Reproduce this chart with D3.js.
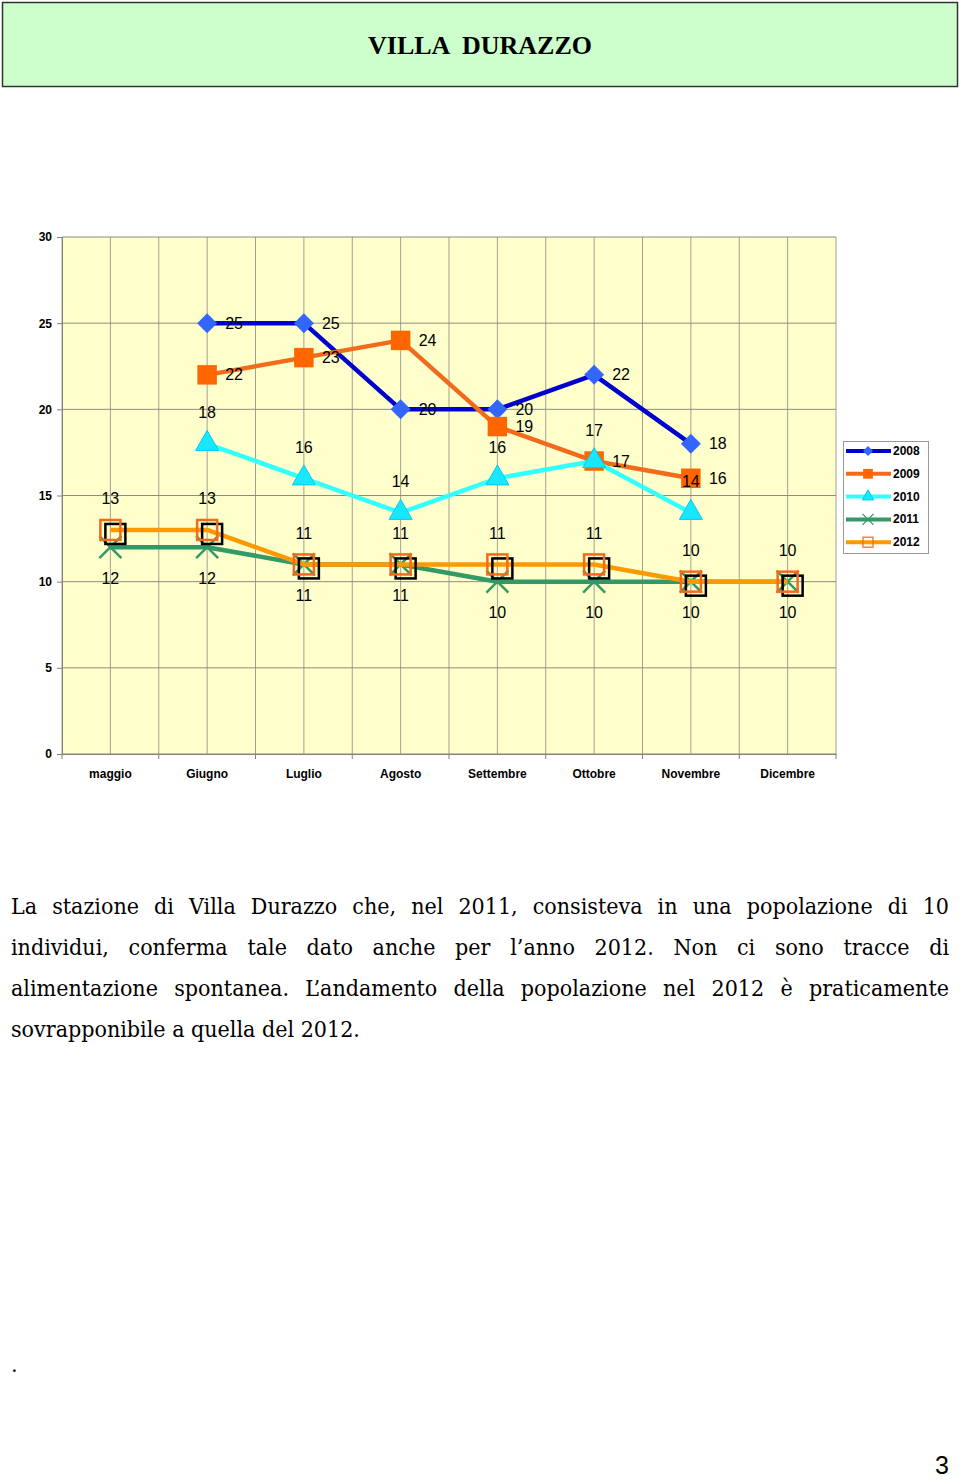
<!DOCTYPE html>
<html>
<head>
<meta charset="utf-8">
<script src="https://cdn.jsdelivr.net/npm/d3@7"></script>
<style>
  body { margin: 0; background: #fff; }
  svg { display: block; }
</style>
</head>
<body>
<svg id="page" width="960" height="1481"></svg>
<script>
// data
var months = ["maggio", "Giugno", "Luglio", "Agosto", "Settembre", "Ottobre", "Novembre", "Dicembre"];
var years = ["2008", "2009", "2010", "2011", "2012"];
var v2008 = [null, 25, 25, 20, 20, 22, 18, null];
var v2009 = [null, 22, 23, 24, 19, 17, 16, null];
var v2010 = [null, 18, 16, 14, 16, 17, 14, null];
var v2011 = [12, 12, 11, 11, 10, 10, 10, 10];
var v2012 = [13, 13, 11, 11, 11, 11, 10, 10];
var yTicks = [0, 5, 10, 15, 20, 25, 30];

var title = "VILLA  DURAZZO";
var paragraph = [
  "La stazione di Villa Durazzo che, nel 2011, consisteva in una popolazione di 10",
  "individui, conferma tale dato anche per l\u2019anno 2012. Non ci sono tracce di",
  "alimentazione spontanea. L\u2019andamento della popolazione nel 2012 \u00e8 praticamente",
  "sovrapponibile a quella del 2012."
];

var values = { "2008": v2008, "2009": v2009, "2010": v2010, "2011": v2011, "2012": v2012 };

// per-series look
var style = {
  "2008": { line: "#0000CC", marker: "diamond", fill: "#3366FF", label: "right" },
  "2009": { line: "#F26B1D", marker: "square", fill: "#FF6600", label: "right" },
  "2010": { line: "#33FFFF", marker: "triangle", fill: "#19E6FF", label: "above" },
  "2011": { line: "#339966", marker: "cross", fill: "#339966", label: "below" },
  "2012": { line: "#FF9900", marker: "open", fill: "#F26B1D", label: "above" }
};

var svg = d3.select("#page");

// title banner
svg.append("rect")
  .attr("x", 2.5).attr("y", 2.5)
  .attr("width", 955).attr("height", 84)
  .attr("fill", "#CCFFCC")
  .attr("stroke", "#333").attr("stroke-width", 1.5);

svg.append("text")
  .attr("x", 480).attr("y", 54)
  .attr("text-anchor", "middle")
  .style("white-space", "pre")
  .attr("font-family", "Liberation Serif, serif")
  .attr("font-weight", "bold")
  .attr("font-size", "26px")
  .text(title);

// chart
var plotL = 62, plotR = 836, plotT = 237, plotB = 754;

var x = d3.scaleBand().domain(months).range([plotL, plotR]).padding(0);
var y = d3.scaleLinear().domain([0, 30]).range([plotB, plotT]);
var cx = function(m) { return x(m) + x.bandwidth() / 2; };

var chart = svg.append("g");

chart.append("rect")
  .attr("x", plotL).attr("y", plotT)
  .attr("width", plotR - plotL).attr("height", plotB - plotT)
  .attr("fill", "#FFFFCC");

// vertical grid at category edges and centres
var vgrid = [];
months.forEach(function(m) { vgrid.push(x(m)); vgrid.push(cx(m)); });
vgrid.push(plotR);
chart.append("g").selectAll("line")
  .data(vgrid)
  .enter().append("line")
  .attr("x1", function(d) { return d; }).attr("x2", function(d) { return d; })
  .attr("y1", plotT).attr("y2", plotB)
  .attr("stroke", "#A0A090").attr("stroke-width", 1);

chart.append("g").selectAll("line")
  .data(yTicks)
  .enter().append("line")
  .attr("x1", plotL).attr("x2", plotR)
  .attr("y1", function(d) { return y(d); }).attr("y2", function(d) { return y(d); })
  .attr("stroke", "#8C8C80").attr("stroke-width", 1);

// axes
var yAxis = chart.append("g")
  .attr("transform", "translate(" + plotL + ",0)")
  .call(d3.axisLeft(y).tickValues(yTicks).tickSize(5).tickPadding(5));
yAxis.select(".domain").attr("stroke", "#808080");
yAxis.selectAll(".tick line").attr("stroke", "#808080");
yAxis.selectAll("text")
  .attr("font-family", "Liberation Sans, Arial, sans-serif")
  .attr("font-weight", "bold")
  .attr("font-size", "12px")
  .attr("fill", "#000");

var xAxis = chart.append("g")
  .attr("transform", "translate(0," + plotB + ")")
  .call(d3.axisBottom(x).tickSize(0).tickPadding(15));
xAxis.select(".domain").attr("stroke", "#808080");
xAxis.selectAll("text")
  .attr("font-family", "Liberation Sans, Arial, sans-serif")
  .attr("font-weight", "bold")
  .attr("font-size", "12px")
  .attr("fill", "#000");
chart.append("g").selectAll("line")
  .data(months.map(function(m) { return x(m); }).concat([plotR]))
  .enter().append("line")
  .attr("x1", function(d) { return d; }).attr("x2", function(d) { return d; })
  .attr("y1", plotB).attr("y2", plotB + 5)
  .attr("stroke", "#808080");

// series lines and markers
var line = d3.line()
  .defined(function(d) { return d.v != null; })
  .x(function(d) { return cx(d.m); })
  .y(function(d) { return y(d.v); });

function drawMarker(g, kind, s, scale) {
  var k = scale || 1;
  if (kind === "diamond") {
    g.append("path").attr("d", d3.symbol(d3.symbolSquare, 200 * k * k)())
      .attr("transform", "rotate(45)")
      .attr("fill", s.fill);
  } else if (kind === "square") {
    g.append("path").attr("d", d3.symbol(d3.symbolSquare, 380 * k * k)())
      .attr("fill", s.fill);
  } else if (kind === "triangle") {
    g.append("path").attr("d", d3.symbol(d3.symbolTriangle, 230 * k * k)())
      .attr("fill", s.fill).attr("stroke", "#00CCEE").attr("stroke-width", 1);
  } else if (kind === "cross") {
    var r = 11 * k;
    g.append("path")
      .attr("d", "M" + (-r) + "," + (-r) + "L" + r + "," + r + "M" + (-r) + "," + r + "L" + r + "," + (-r))
      .attr("stroke", s.fill).attr("stroke-width", 2.5 * k).attr("fill", "none");
  } else if (kind === "open") {
    var h = 10 * k;
    if (k === 1) {
      g.append("rect").attr("x", -h + 5).attr("y", -h + 4)
        .attr("width", 2 * h).attr("height", 2 * h)
        .attr("fill", "none").attr("stroke", "#000").attr("stroke-width", 2.5);
    }
    g.append("rect").attr("x", -h).attr("y", -h)
      .attr("width", 2 * h).attr("height", 2 * h)
      .attr("fill", "none").attr("stroke", s.fill).attr("stroke-width", 2.5 * k);
  }
}

years.forEach(function(yr) {
  var s = style[yr];
  var pts = months.map(function(m, i) { return { m: m, v: values[yr][i] }; });
  var g = chart.append("g");
  g.append("path")
    .datum(pts)
    .attr("d", line)
    .attr("fill", "none")
    .attr("stroke", s.line)
    .attr("stroke-width", 4.5)
    .attr("stroke-linejoin", "round");
  g.selectAll(".mk")
    .data(pts.filter(function(d) { return d.v != null; }))
    .enter().append("g")
    .attr("transform", function(d) { return "translate(" + cx(d.m) + "," + y(d.v) + ")"; })
    .each(function() { drawMarker(d3.select(this), s.marker, s); });
});

// data labels on top
years.forEach(function(yr) {
  var s = style[yr];
  var pts = months.map(function(m, i) { return { m: m, v: values[yr][i] }; })
    .filter(function(d) { return d.v != null; });
  chart.append("g").selectAll("text")
    .data(pts)
    .enter().append("text")
    .attr("x", function(d) { return cx(d.m) + (s.label === "right" ? 27 : 0); })
    .attr("y", function(d) {
      var off = s.label === "above" ? -31 : s.label === "below" ? 31 : 0;
      return y(d.v) + off;
    })
    .attr("text-anchor", "middle")
    .attr("dominant-baseline", "central")
    .attr("font-family", "Liberation Sans, Arial, sans-serif")
    .attr("font-size", "16px")
    .attr("fill", "#000")
    .text(function(d) { return d.v; });
});

// legend
var legend = svg.append("g").attr("transform", "translate(843,441)");
legend.append("rect")
  .attr("x", 0.5).attr("y", 0.5)
  .attr("width", 85).attr("height", 112)
  .attr("fill", "#fff").attr("stroke", "#999");
var item = legend.selectAll(".item")
  .data(years)
  .enter().append("g")
  .attr("transform", function(d, i) { return "translate(0," + (10 + i * 22.8) + ")"; });
item.append("line")
  .attr("x1", 3).attr("x2", 48)
  .attr("stroke", function(d) { return style[d].line; })
  .attr("stroke-width", 4);
item.append("g")
  .attr("transform", "translate(25,0)")
  .each(function(d) { drawMarker(d3.select(this), style[d].marker, style[d], 0.5); });
item.append("text")
  .attr("x", 50)
  .attr("dominant-baseline", "central")
  .attr("font-family", "Liberation Sans, Arial, sans-serif")
  .attr("font-weight", "bold")
  .attr("font-size", "12px")
  .text(function(d) { return d; });

// justified paragraph
var para = svg.append("g")
  .attr("font-family", "DejaVu Serif Condensed, DejaVu Serif, serif")
  .attr("font-stretch", "condensed")
  .attr("font-size", "23px")
  .attr("fill", "#000");
var px0 = 11, px1 = 949;
paragraph.forEach(function(txt, i) {
  var by = 914 + i * 41;
  if (i === paragraph.length - 1) {
    para.append("text").attr("x", px0).attr("y", by).text(txt);
    return;
  }
  var words = txt.split(" ");
  var nodes = words.map(function(w) {
    return para.append("text").attr("y", by).text(w);
  });
  var widths = nodes.map(function(n) { return n.node().getComputedTextLength(); });
  var gap = (px1 - px0 - d3.sum(widths)) / (words.length - 1);
  var cur = px0;
  nodes.forEach(function(n, j) {
    n.attr("x", cur);
    cur += widths[j] + gap;
  });
});

svg.append("text")
  .attr("x", 11).attr("y", 1372)
  .attr("font-family", "DejaVu Serif, serif")
  .attr("font-size", "21px")
  .text(".");

svg.append("text")
  .attr("x", 949).attr("y", 1474)
  .attr("text-anchor", "end")
  .attr("font-family", "Liberation Sans, Arial, sans-serif")
  .attr("font-size", "25px")
  .text("3");
</script>
</body>
</html>
